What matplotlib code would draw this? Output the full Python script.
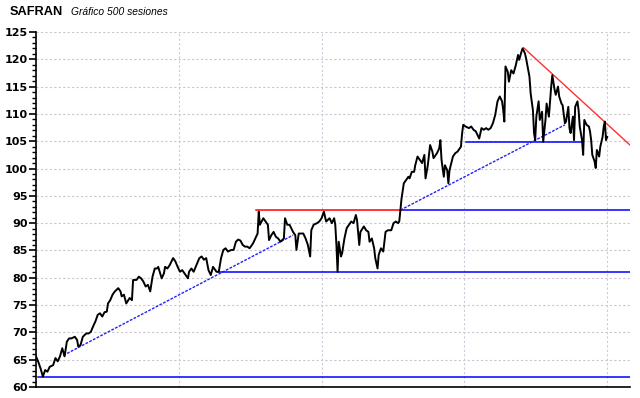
import matplotlib
matplotlib.use("Agg")
import matplotlib.pyplot as plt
from matplotlib.ticker import MultipleLocator

# ---- data ----
sessions = [0,2,4,6,8,10,12,15,17,19,21,23,25,27,29,31,34,36,37,39,41,44,46,48,50,52,54,56,58,60,
            62,63,65,67,69,72,74,75,77,79,82,84,85,88,90,92,94,96,98,100,102,104,106,107,110,112,113,115,117,120,
            122,124,126,128,131,133,134,136,138,141,143,145,147,149,151,153,155,158,160,162,164,166,168,171,
            173,175,177,179,181,183,185,187,190,192,194,195,196,199,201,203,204,206,208,210,212,214,217,218,
            220,222,225,227,228,230,232,234,236,238,240,241,243,246,248,250,
            252,254,257,259,261,262,263,264,265,267,268,270,272,274,276,278,280,281,283,284,287,289,291,292,
            294,296,297,299,300,302,304,306,308,311,313,315,317,318,319,320,322,324,326,327,329,331,332,334,
            336,338,340,341,343,345,347,348,351,353,354,355,357,358,360,361,362,365,367,369,370,372,373,374,376,
            379,381,383,385,388,390,392,394,396,398,400,402,404,406,408,409,410,411,413,414,416,418,420,422,
            423,425,426,428,429,431,432,433,435,436,437,438,440,441,443,444,446,447,449,451,452,454,455,457,
            458,460,461,463,464,466,467,468,470,471,472,474,475,476,478,479,480,482,484,485,486,487,489,490,
            491,493,494,496,497,498,499,500]
prices = [65.6,64.6,63.4,61.9,63.1,62.8,63.7,64.0,65.3,64.7,65.6,67.1,65.6,68.3,68.9,68.9,69.2,68.6,67.4,67.7,
          69.2,69.8,69.8,70.1,71.1,72.0,73.2,73.5,72.9,73.7,
          73.8,75.3,75.9,76.9,77.5,78.1,77.5,76.6,76.9,75.3,76.3,75.9,79.6,79.6,80.2,79.9,79.3,78.4,78.7,77.5,
          80.2,81.7,81.7,82.0,79.9,80.8,82.0,81.7,82.3,83.6,
          83.0,82.0,81.1,81.4,80.5,79.9,81.1,81.7,81.1,82.6,83.6,83.9,83.3,83.6,81.4,80.5,82.0,81.1,81.1,83.6,
          85.1,85.4,84.8,85.1,
          85.1,86.6,87.0,86.8,86.0,85.7,85.7,85.4,86.3,87.2,88.1,92.1,89.7,90.9,90.3,89.7,86.9,87.8,88.4,87.5,
          87.2,86.6,87.2,90.9,
          89.7,89.7,88.4,87.8,85.1,88.1,88.1,88.1,87.2,86.0,83.9,88.7,89.7,90.0,90.3,90.9,
          92.1,90.3,90.9,90.0,90.9,89.7,86.0,81.1,86.6,83.9,84.5,87.2,89.1,89.7,90.3,90.0,91.5,90.6,86.0,88.4,
          89.4,88.7,88.4,86.6,
          87.2,85.4,83.6,81.7,84.2,85.4,84.8,88.4,88.7,88.7,90.0,90.3,90.0,90.3,92.4,94.5,97.3,97.9,98.5,98.2,
          99.4,99.4,100.6,102.2,
          101.6,101.0,102.5,98.2,100.6,104.3,103.1,101.9,102.8,103.7,105.2,101.6,98.5,100.6,99.7,97.3,99.7,
          102.2,102.8,103.1,103.4,104.0,106.4,108.0,107.7,
          107.4,107.7,107.1,106.8,105.5,107.4,107.1,107.4,107.1,107.4,108.3,109.8,112.3,113.2,112.3,110.7,108.6,
          118.7,117.7,115.9,118.0,117.4,118.9,120.8,
          119.9,121.4,122.0,121.1,120.2,118.0,116.8,113.8,110.7,106.5,105.2,109.5,112.3,108.9,110.4,104.9,108.9,
          111.9,109.5,115.0,117.1,114.4,113.5,115.0,
          113.2,111.9,111.6,108.3,108.6,111.3,107.4,106.5,109.5,105.2,111.3,112.3,110.7,107.7,105.2,102.5,108.9,
          108.0,107.7,106.8,105.2,102.5,101.3,100.1,
          103.4,102.2,104.0,105.8,107.7,108.6,105.2,105.8]

# support / resistance lines: (x0, x1, level)
blue_levels = [(2, 520, 61.8), (159, 520, 81.0), (320, 520, 92.35), (376, 477, 104.8)]
red_levels = [(193, 320, 92.35)]
blue_trends = [((24, 225), (65.8, 87.8)), ((319, 463), (92.4, 108.0))]
red_trends = [((427, 520), (122.1, 104.3))]

yticks = list(range(60, 126, 5))
xgrid = [125, 250, 375, 500]

# ---- figure ----
fig = plt.figure(figsize=(6.4, 3.98), dpi=100)
ax = fig.add_axes([36/640, 1-387/398, (630-36)/640, (387-32)/398])
ax.set_xlim(0, 520)
ax.set_ylim(60, 125)

for y in yticks:
    ax.axhline(y, color='#cbc6cf', lw=0.8, ls=(0, (2, 2)), zorder=0)
for x in xgrid:
    ax.axvline(x, color='#c8ccd8', lw=0.8, ls=(0, (2, 2)), zorder=0)

for x0, x1, lv in blue_levels:
    ax.plot([x0, x1], [lv, lv], color='#0000ff', lw=1.1, zorder=2)
for x0, x1, lv in red_levels:
    ax.plot([x0, x1], [lv, lv], color='#ff0000', lw=1.1, zorder=2)
for xs, ys in blue_trends:
    ax.plot(xs, ys, color='#2020ff', lw=1.0, ls=(0, (2, 1)), zorder=2)
for xs, ys in red_trends:
    ax.plot(xs, ys, color='#ff3030', lw=1.0, zorder=2)

ax.plot(sessions, prices, color='black', lw=1.4, zorder=3)

for s in ['top', 'right']:
    ax.spines[s].set_visible(False)
ax.spines['left'].set_linewidth(1.2)
ax.spines['bottom'].set_linewidth(1.2)
ax.set_yticks(yticks)
ax.yaxis.set_minor_locator(MultipleLocator(1))
ax.tick_params(axis='y', which='major', length=5, width=1.2, labelsize=8, pad=1)
ax.tick_params(axis='y', which='minor', length=3, width=1)
for lab in ax.get_yticklabels():
    lab.set_fontweight('bold')
ax.set_xticks([])

fig.text(10/640, 1-15/398, 'SAFRAN', fontsize=9.2, fontweight='bold',
         family='Liberation Sans', va='baseline', ha='left')
fig.text(71/640, 1-15/398, 'Gráfico 500 sesiones', fontsize=7.4, style='italic',
         family='Liberation Sans', va='baseline', ha='left')

fig.savefig('out.png', dpi=100)
